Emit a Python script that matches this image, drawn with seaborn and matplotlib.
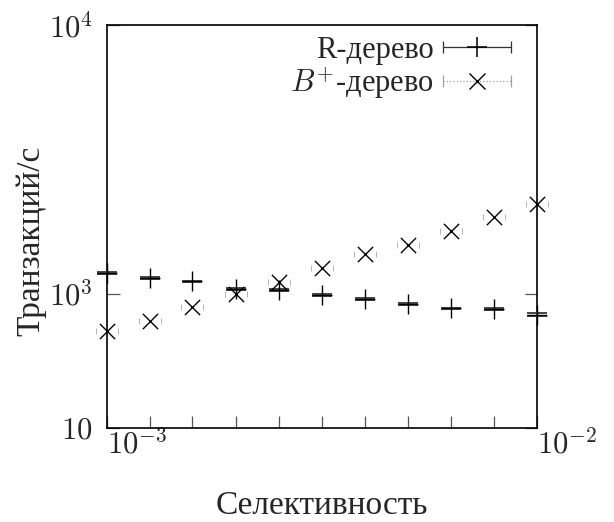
import numpy as np
import pandas as pd
import seaborn as sns
import matplotlib.pyplot as plt
from matplotlib.path import Path
from matplotlib.lines import Line2D
from matplotlib.container import ErrorbarContainer
from matplotlib.collections import LineCollection
from matplotlib.legend_handler import HandlerErrorbar

# selectivity values (log-spaced between 1e-3 and 1e-2)
selectivity = [0.001, 0.00126, 0.00158, 0.002, 0.00251, 0.00316,
               0.00398, 0.00501, 0.00631, 0.00794, 0.01]

# transactions per second
rtree_tps = [1195, 1141, 1111, 1041, 1035, 987, 958, 918, 881, 874, 835]
rtree_err = [9, 8, 8, 8, 8, 7, 7, 7, 7, 7, 9]
btree_tps = [728, 793, 889, 997, 1102, 1245, 1406, 1519, 1708, 1926, 2148]
btree_err = [6, 7, 8, 9, 10, 11, 12, 13, 15, 17, 19]

rtree_label = "R-дерево"
btree_label = "$B^{+}$-дерево"
xlabel = "Селективность"
ylabel = "Транзакций/с"

ytick_vals = [10 ** 2.5, 1e3, 1e4]
ytick_labels = ["$10$", "$10^{3}$", "$10^{4}$"]
xtick_labels = ["$10^{-3}$"] + [""] * 9 + ["$10^{-2}$"]

df_r = pd.DataFrame({"sel": selectivity, "tps": rtree_tps})
df_b = pd.DataFrame({"sel": selectivity, "tps": btree_tps})

sns.set_style("ticks")
plt.rcParams["font.family"] = ["Liberation Serif", "DejaVu Serif"]
plt.rcParams["mathtext.fontset"] = "cm"
plt.rcParams["axes.unicode_minus"] = True

fig = plt.figure(figsize=(6.14, 5.22), dpi=100)
ax = fig.add_axes([0.1738, 0.1801, 0.7008, 0.7720])
ax.set_xscale("log")
ax.set_yscale("log")

# y error bars: R-tree dark caps, B+-tree faint dotted-looking caps
ax.errorbar(selectivity, rtree_tps, yerr=rtree_err, fmt="none", ecolor="#444444",
            elinewidth=1, capsize=7, capthick=1.4, clip_on=False, zorder=3)
eb = ax.errorbar(selectivity, btree_tps, yerr=btree_err, fmt="none", ecolor="#b5b5b5",
                 elinewidth=0, capsize=8, capthick=0.7, clip_on=False, zorder=3)
tick_path = Path([(-1, -0.22), (-1, 0.22), (1, -0.22), (1, 0.22)],
                 [Path.MOVETO, Path.LINETO, Path.MOVETO, Path.LINETO])
for cl in eb[1]:
    cl.set_marker(tick_path)
    cl.set_markersize(16)

sns.scatterplot(data=df_r, x="sel", y="tps", marker="+", s=190, color="black",
                linewidth=1.0, ax=ax, legend=False, clip_on=False, zorder=4)
sns.scatterplot(data=df_b, x="sel", y="tps", marker="x", s=120, color="black",
                linewidth=1.0, ax=ax, legend=False, clip_on=False, zorder=4)

ax.set_xlim(selectivity[0], selectivity[-1])
ax.set_ylim(ytick_vals[0], ytick_vals[-1])
ax.set_xticks(selectivity, labels=xtick_labels)
ax.set_yticks(ytick_vals, labels=ytick_labels)
ax.minorticks_off()
for lbl in ax.get_xticklabels():
    lbl.set_horizontalalignment("left")

ax.tick_params(axis="x", direction="in", length=9, width=0.9, color="#555555",
               bottom=True, top=False, pad=1, labelsize=22)
ax.tick_params(axis="y", direction="in", length=9, width=0.9, color="#555555",
               left=True, right=True, pad=10, labelsize=22)
for sp in ax.spines.values():
    sp.set_visible(True)
    sp.set_linewidth(1.2)
    sp.set_color("black")

ax.set_xlabel(xlabel, fontsize=24)
ax.set_ylabel(ylabel, fontsize=24)
ax.xaxis.set_label_coords(0.5, -0.155)
ax.yaxis.set_label_coords(-0.14, 0.465)

# legend samples drawn gnuplot-like: horizontal bar with end ticks
def proxy(marker, ms, lw, color, ls):
    data = Line2D([], [], marker=marker, ms=ms, mew=lw, color="black", ls="none")
    caps = (Line2D([], [], marker="|", ms=9, mew=0.9, color=color, ls="none"),)
    bars = LineCollection([], colors=color, linewidths=0.9, linestyles=ls)
    return ErrorbarContainer((data, caps, (bars,)), has_xerr=True, has_yerr=False)

h_r = proxy("+", 13.7, 1.1, "#333333", "-")
h_b = proxy("x", 11, 1.0, "#a0a0a0", ":")
ax.legend([h_r, h_b], [rtree_label, btree_label], loc="upper right",
          bbox_to_anchor=(0.942, 0.973), frameon=False, markerfirst=False,
          fontsize=22, handlelength=2.3, handletextpad=0.25, borderpad=0,
          borderaxespad=0, labelspacing=0.0,
          handler_map={ErrorbarContainer: HandlerErrorbar(xerr_size=1.12)})

fig.savefig("out.png", dpi=100)
